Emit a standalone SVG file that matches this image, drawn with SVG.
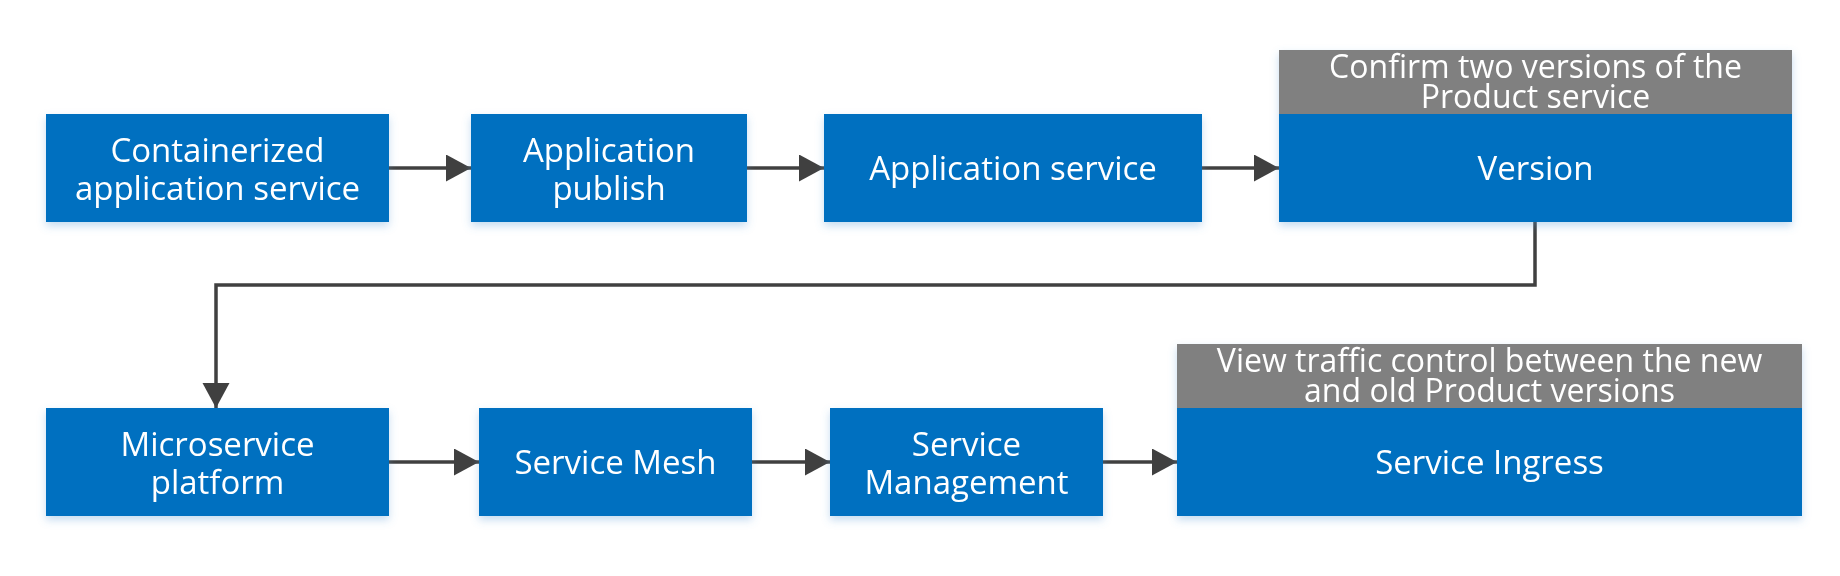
<svg xmlns="http://www.w3.org/2000/svg" width="1840" height="576" viewBox="0 0 1840 576">
<style>
.box{fill:#0070C0;}
.hdr{fill:#808080;}
.t{font-family:"Open Sans","Noto Sans",sans-serif;font-size:33px;fill:#ffffff;text-anchor:middle;}
.h{font-family:"Open Sans","Noto Sans",sans-serif;font-size:32px;fill:#ffffff;text-anchor:middle;}
.c{fill:none;stroke:#404040;stroke-width:3.5;}
</style>
<defs>
<filter id="sh" x="-10%" y="-20%" width="120%" height="150%">
<feDropShadow dx="0" dy="4" stdDeviation="4" flood-color="#5b9bd5" flood-opacity="0.35"/>
</filter>
<marker id="ah" markerUnits="userSpaceOnUse" markerWidth="26" markerHeight="28" refX="25" refY="13.5" orient="auto">
<path d="M0,0 L25,13.5 L0,27 z" fill="#404040"/>
</marker>
</defs>
<rect width="1840" height="576" fill="#ffffff"/>
<g id="connectors">
<line class="c" x1="389" y1="168" x2="471" y2="168" marker-end="url(#ah)"/>
<line class="c" x1="747" y1="168" x2="824" y2="168" marker-end="url(#ah)"/>
<line class="c" x1="1202" y1="168" x2="1279" y2="168" marker-end="url(#ah)"/>
<polyline class="c" points="1535,222 1535,285 216,285 216,408" marker-end="url(#ah)"/>
<line class="c" x1="389" y1="462" x2="479" y2="462" marker-end="url(#ah)"/>
<line class="c" x1="752" y1="462" x2="830" y2="462" marker-end="url(#ah)"/>
<line class="c" x1="1103" y1="462" x2="1177" y2="462" marker-end="url(#ah)"/>
</g>
<g id="n1" filter="url(#sh)">
<rect class="box" x="46" y="114" width="343" height="108"/>
<text class="t" x="217.5" y="162">Containerized</text>
<text class="t" x="217.5" y="200">application service</text>
</g>
<g id="n2" filter="url(#sh)">
<rect class="box" x="471" y="114" width="276" height="108"/>
<text class="t" x="609" y="162">Application</text>
<text class="t" x="609" y="200">publish</text>
</g>
<g id="n3" filter="url(#sh)">
<rect class="box" x="824" y="114" width="378" height="108"/>
<text class="t" x="1013" y="180">Application service</text>
</g>
<g id="n4" filter="url(#sh)">
<rect class="hdr" x="1279" y="50" width="513" height="64"/>
<rect class="box" x="1279" y="114" width="513" height="108"/>
<text class="h" x="1535.5" y="78">Confirm two versions of the</text>
<text class="h" x="1535.5" y="108">Product service</text>
<text class="t" x="1535.5" y="180">Version</text>
</g>
<g id="n5" filter="url(#sh)">
<rect class="box" x="46" y="408" width="343" height="108"/>
<text class="t" x="217.5" y="456">Microservice</text>
<text class="t" x="217.5" y="494">platform</text>
</g>
<g id="n6" filter="url(#sh)">
<rect class="box" x="479" y="408" width="273" height="108"/>
<text class="t" x="615.5" y="474">Service Mesh</text>
</g>
<g id="n7" filter="url(#sh)">
<rect class="box" x="830" y="408" width="273" height="108"/>
<text class="t" x="966.5" y="456">Service</text>
<text class="t" x="966.5" y="494">Management</text>
</g>
<g id="n8" filter="url(#sh)">
<rect class="hdr" x="1177" y="344" width="625" height="64"/>
<rect class="box" x="1177" y="408" width="625" height="108"/>
<text class="h" x="1489.5" y="372">View traffic control between the new</text>
<text class="h" x="1489.5" y="402">and old Product versions</text>
<text class="t" x="1489.5" y="474">Service Ingress</text>
</g>
</svg>
